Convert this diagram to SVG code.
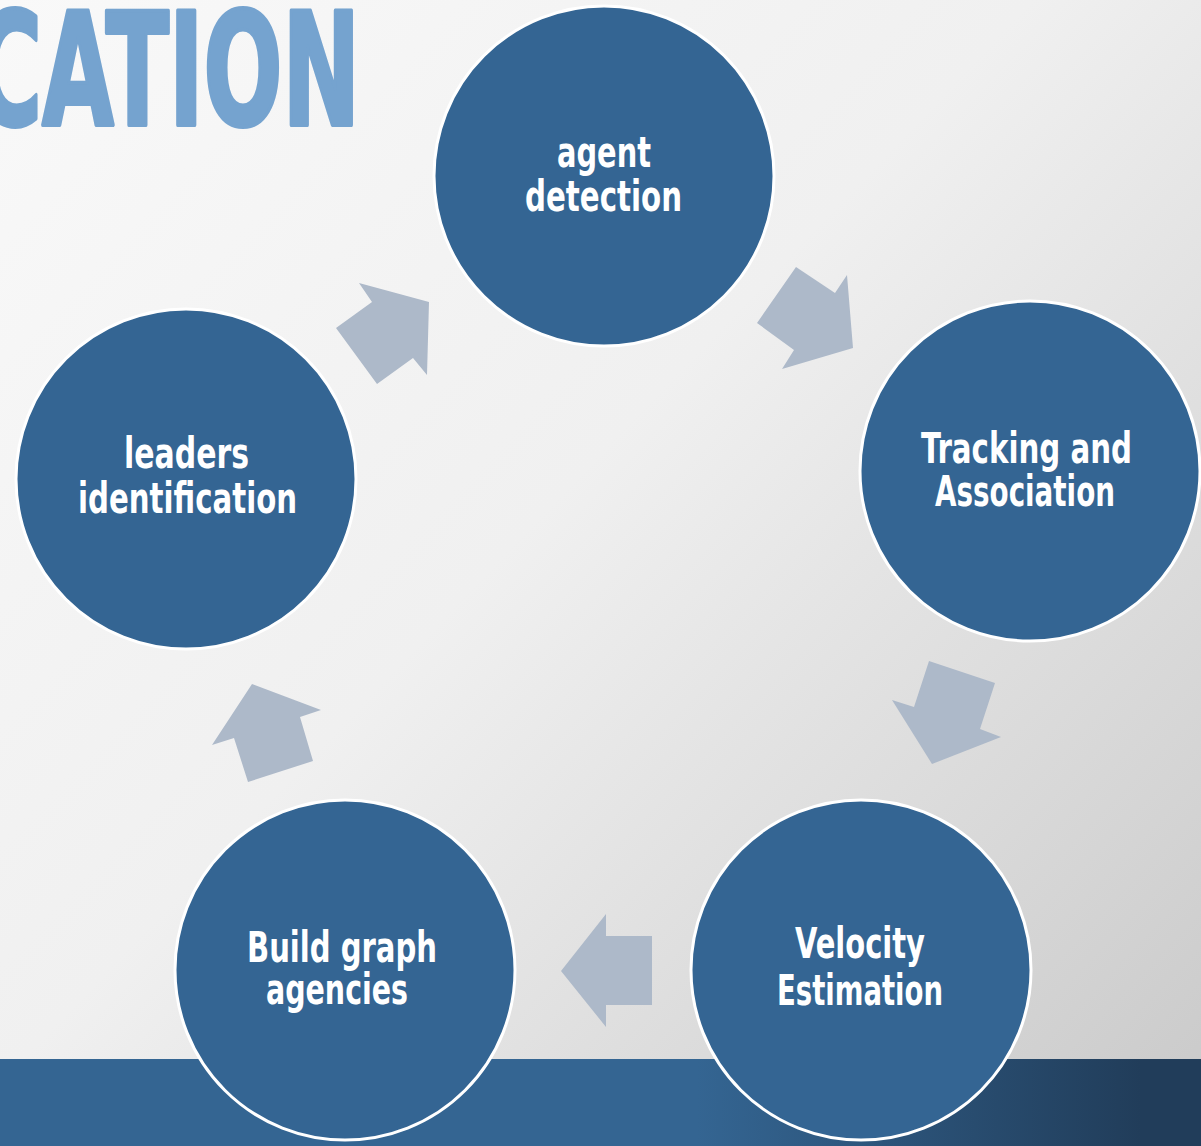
<svg xmlns="http://www.w3.org/2000/svg" width="1201" height="1146" viewBox="0 0 1201 1146">
  <defs>
    <linearGradient id="bg" x1="0" y1="0" x2="1201" y2="1146" gradientUnits="userSpaceOnUse">
      <stop offset="0" stop-color="#f9f9f9"/>
      <stop offset="0.45" stop-color="#f0f0f0"/>
      <stop offset="1" stop-color="#c9c9c9"/>
    </linearGradient>
    <linearGradient id="band" x1="0" y1="0" x2="1201" y2="0" gradientUnits="userSpaceOnUse">
      <stop offset="0" stop-color="#346592"/>
      <stop offset="0.58" stop-color="#346592"/>
      <stop offset="0.95" stop-color="#213d5a"/>
      <stop offset="1" stop-color="#213d5a"/>
    </linearGradient>
    <style>
      .node { fill: #346593; stroke: #ffffff; stroke-width: 3; }
      .lbl { fill: #ffffff; font-family: "Liberation Sans Narrow", "DejaVu Sans Condensed", "Liberation Sans", sans-serif; font-weight: bold; font-size: 43px; }
      .arrow { fill: #adb9c9; }
      .title { fill: #75a3cf; stroke: #75a3cf; stroke-width: 4; stroke-linejoin: round; font-family: "Liberation Sans Narrow", "DejaVu Sans Condensed", "Liberation Sans", sans-serif; font-weight: bold; font-size: 156px; }
    </style>
  </defs>

  <!-- background -->
  <rect x="0" y="0" width="1201" height="1146" fill="url(#bg)"/>
  <rect x="0" y="1059" width="1201" height="87" fill="url(#band)"/>

  <!-- heading -->
  <text class="title" x="-26" y="125" textLength="386" lengthAdjust="spacingAndGlyphs">CATION</text>

  <!-- connectors -->
  <g id="connectors">
    <polygon class="arrow" points="796,267 835,293 847,275 853,348 782,369 794,350 757,323"/>
    <polygon class="arrow" points="929,661 995,683 980,729 1001,737 932,764 892,700 914,707"/>
    <polygon class="arrow" points="606,914 606,936 652,936 652,1005 606,1005 606,1027 561,971"/>
    <polygon class="arrow" points="252,684 321,710 300,717 313,761 248,782 234,738 212,745"/>
    <polygon class="arrow" points="359,283 429,302 427,375 413,358 377,384 336,328 372,302"/>
  </g>

  <g id="agent-detection">
    <circle class="node" cx="604" cy="176" r="170"/>
    <text class="lbl" x="557" y="167" textLength="94" lengthAdjust="spacingAndGlyphs">agent</text>
    <text class="lbl" x="525" y="211" textLength="157" lengthAdjust="spacingAndGlyphs">detection</text>
  </g>

  <g id="tracking-association">
    <circle class="node" cx="1030" cy="471" r="170"/>
    <text class="lbl" x="921" y="463" textLength="211" lengthAdjust="spacingAndGlyphs">Tracking and</text>
    <text class="lbl" x="935" y="506" textLength="180" lengthAdjust="spacingAndGlyphs">Association</text>
  </g>

  <g id="velocity-estimation">
    <circle class="node" cx="861" cy="970" r="170"/>
    <text class="lbl" x="795" y="958" textLength="130" lengthAdjust="spacingAndGlyphs">Velocity</text>
    <text class="lbl" x="777" y="1005" textLength="166" lengthAdjust="spacingAndGlyphs">Estimation</text>
  </g>

  <g id="build-graph-agencies">
    <circle class="node" cx="345" cy="970" r="170"/>
    <text class="lbl" x="247" y="962" textLength="190" lengthAdjust="spacingAndGlyphs">Build graph</text>
    <text class="lbl" x="266" y="1004" textLength="142" lengthAdjust="spacingAndGlyphs">agencies</text>
  </g>

  <g id="leaders-identification">
    <circle class="node" cx="186" cy="479" r="170"/>
    <text class="lbl" x="124" y="468" textLength="125" lengthAdjust="spacingAndGlyphs">leaders</text>
    <text class="lbl" x="78" y="513" textLength="219" lengthAdjust="spacingAndGlyphs">identification</text>
  </g>
</svg>
